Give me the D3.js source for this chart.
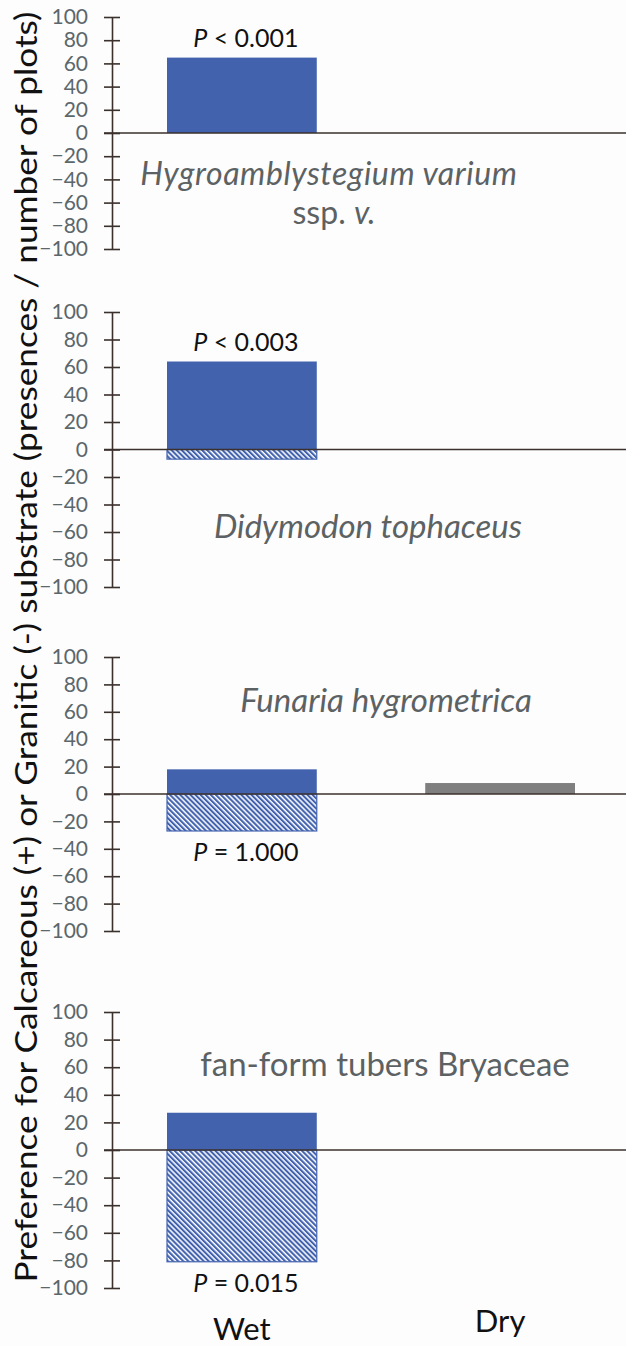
<!DOCTYPE html>
<html>
<head>
<meta charset="utf-8">
<script src="https://cdn.jsdelivr.net/npm/d3@7"></script>
<style>
  html, body { margin: 0; padding: 0; background: #fdfdfe; }
  svg { display: block; }
  text { font-family: Lato, "Open Sans", sans-serif; }
</style>
</head>
<body>
<svg id="board" width="626" height="1346"></svg>
<script>
  // data
  var categories = ["Wet", "Dry"]
  var species = [["Hygroamblystegium varium", "ssp. v."], ["Didymodon tophaceus"], ["Funaria hygrometrica"], ["fan-form tubers Bryaceae"]]
  var speciesItalic = [true, true, true, false]
  var wetCalc = [65, 64, 18, 27]      // presences on calcareous (+)
  var wetGran = [0, -7, -27, -81]     // presences on granitic (-)
  var dryCalc = [0, 0, 8, 0]
  var dryGran = [0, 0, 0, 0]
  var pLabels = ["< 0.001", "< 0.003", "= 1.000", "= 0.015"]
  var pPlace = ["above", "above", "below", "below"]
  var yTicks = [100, 80, 60, 40, 20, 0, -20, -40, -60, -80, -100]
  var yTitle = "Preference for Calcareous (+) or Granitic (-) substrate (presences / number of plots)"

  // layout of the four stacked panels (pixel positions of +100 and -100)
  var panelTop = [17, 312, 657, 1012]
  var panelBot = [249, 587, 931, 1288]
  var labelX = [329, 368, 386, 385]
  var labelY = [185, 538, 712, 1076]
  var labelSize = [32, 33, 33, 33]
  var axisX = 112

  var blue = "#4262ae", grey = "#7f7f7f", axisCol = "#3b302c", tickCol = "#5b676b", spCol = "#5c6263"

  var svg = d3.select("#board")

  var defs = svg.append("defs")
  function hatch(id, col) {
    var p = defs.append("pattern").attr("id", id).attr("patternUnits", "userSpaceOnUse")
      .attr("width", 3.6).attr("height", 3.6).attr("patternTransform", "rotate(45)")
    p.append("rect").attr("width", 3.6).attr("height", 3.6).attr("fill", col)
    p.append("rect").attr("y", 0).attr("width", 3.6).attr("height", 1.5).attr("fill", "#ffffff")
  }
  hatch("hatchWet", blue)
  hatch("hatchDry", grey)

  var x = d3.scaleBand().domain(categories).range([axisX, 630]).paddingInner(0.42).paddingOuter(0.213)

  for (var i = 0; i < 4; i++) {
    var y = d3.scaleLinear().domain([-100, 100]).range([panelBot[i], panelTop[i]])
    var g = svg.append("g")

    var bars = [
      {cat: "Wet", v: wetCalc[i], fill: blue},
      {cat: "Wet", v: wetGran[i], fill: "url(#hatchWet)", stroke: blue},
      {cat: "Dry", v: dryCalc[i], fill: grey},
      {cat: "Dry", v: dryGran[i], fill: "url(#hatchDry)", stroke: grey}
    ].filter(function(d){ return d.v !== 0 })

    g.selectAll("rect.bar").data(bars).enter().append("rect").attr("class", "bar")
      .attr("x", function(d){ return x(d.cat) })
      .attr("width", x.bandwidth())
      .attr("y", function(d){ return Math.min(y(d.v), y(0)) })
      .attr("height", function(d){ return Math.abs(y(d.v) - y(0)) })
      .attr("fill", function(d){ return d.fill })
      .attr("stroke", function(d){ return d.stroke || "none" })
      .attr("stroke-width", 1.2)

    // zero line
    g.append("line").attr("x1", axisX - 8).attr("x2", 626).attr("y1", y(0)).attr("y2", y(0))
      .attr("stroke", axisCol).attr("stroke-width", 1.6)

    // y axis with crossing ticks
    var ax = g.append("g").attr("transform", "translate(" + axisX + ",0)")
      .call(d3.axisLeft(y).tickValues(yTicks).tickSize(8).tickSizeOuter(0))
    ax.select(".domain").attr("stroke", axisCol).attr("stroke-width", 1.6)
    ax.selectAll(".tick line").attr("x1", -8).attr("x2", 8).attr("stroke", axisCol).attr("stroke-width", 1.6)
    ax.selectAll(".tick text").attr("x", -24).attr("fill", tickCol)
      .style("font-family", "Lato, sans-serif").style("font-size", "21px")

    // P value annotation
    var wx = x("Wet") + x.bandwidth() / 2
    var py = pPlace[i] === "above" ? y(wetCalc[i]) - 11 : y(wetGran[i]) + 30
    var pt = g.append("text").attr("x", wx + 4).attr("y", py).attr("text-anchor", "middle")
      .style("font-size", "25px").attr("fill", "#111")
    pt.append("tspan").style("font-style", "italic").text("P")
    pt.append("tspan").text(" " + pLabels[i])

    // species name (one text per line)
    species[i].forEach(function(line, k) {
      var st = g.append("text").attr("text-anchor", "middle").attr("fill", spCol)
        .attr("x", labelX[i] + (k ? 5 : 0)).attr("y", labelY[i] + k * 39)
        .style("font-size", labelSize[i] + "px")
        .style("letter-spacing", i === 0 && k === 0 ? "0.6px" : null)
        .style("font-style", speciesItalic[i] && k === 0 ? "italic" : "normal")
      if (k === 0) st.text(line)
      else {
        st.append("tspan").text("ssp. ")
        st.append("tspan").style("font-style", "italic").text("v.")
      }
    })
  }

  // category labels under the last panel
  svg.selectAll("text.cat").data(categories).enter().append("text").attr("class", "cat")
    .attr("x", function(d){ return x(d) + x.bandwidth() / 2 })
    .attr("y", function(d, k){ return k ? 1332 : 1340 })
    .attr("text-anchor", "middle").style("font-size", "31px").attr("fill", "#111")
    .text(function(d){ return d })

  // shared y title
  svg.append("text").attr("transform", "translate(37,647) rotate(-90)")
    .attr("text-anchor", "middle").style("font-size", "30px").attr("fill", "#111")
    .attr("textLength", 1271).attr("lengthAdjust", "spacingAndGlyphs")
    .text(yTitle)
</script>
</body>
</html>
